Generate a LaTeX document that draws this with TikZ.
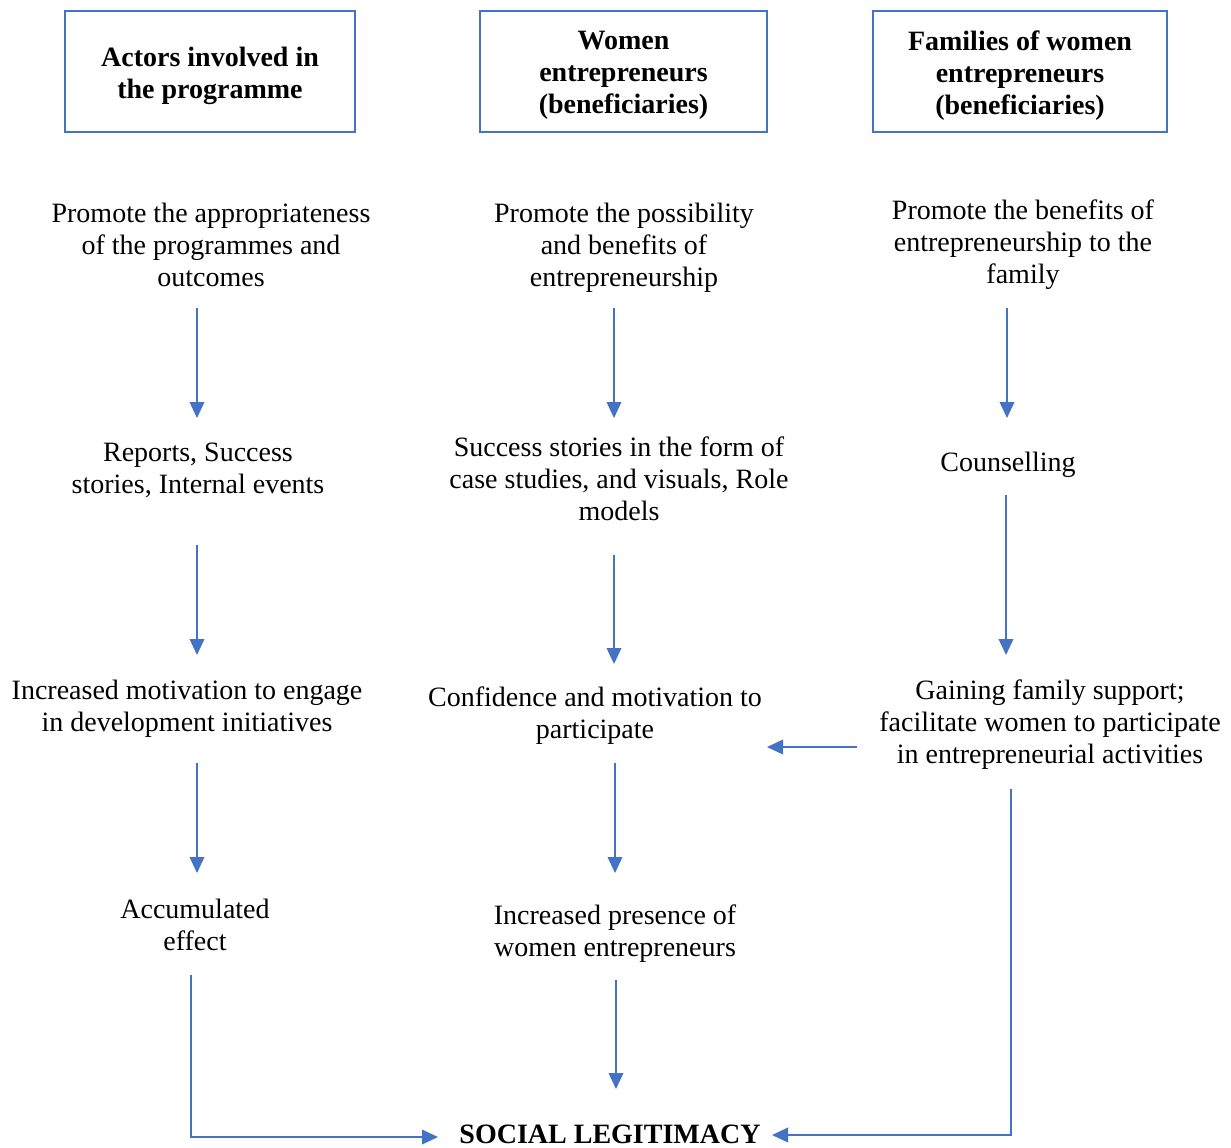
\documentclass[tikz,border=0pt]{standalone}
\usepackage{fontspec}
\setmainfont{Liberation Serif}
\usetikzlibrary{arrows.meta}
\definecolor{flowblue}{HTML}{4472C4}
\begin{document}
\begin{tikzpicture}[x=0.75pt,y=-0.75pt,
  txt/.style={align=center,inner sep=0pt,font=\fontsize{21}{24}\selectfont},
  headbox/.style={draw=flowblue,line width=0.9pt,minimum height=121*0.75pt,inner sep=0pt},
  headtxt/.style={txt,font=\fontsize{21}{24}\selectfont\bfseries},
  flow/.style={draw=flowblue,line width=1.1pt,-{Triangle[length=12pt,width=11pt]}}]
\useasboundingbox (0,0) rectangle (1231,1147);

% column headers
\node[headbox,minimum width=290*0.75pt] (h1) at (210,71.5) {};
\node[headbox,minimum width=287*0.75pt] (h2) at (623.5,71.5) {};
\node[headbox,minimum width=294*0.75pt] (h3) at (1020,71.5) {};
\node[headtxt] (h1t) at (210,76) {Actors involved in\\the programme};
\node[headtxt] (h2t) at (623.5,75.5) {Women\\entrepreneurs\\(beneficiaries)};
\node[headtxt] (h3t) at (1020,75.5) {Families of women\\entrepreneurs\\(beneficiaries)};

% actors column
\node[txt] (a1) at (211,245) {Promote the appropriateness\\of the programmes and\\outcomes};
\node[txt] (a2) at (198,470) {Reports, Success\\stories, Internal events};
\node[txt] (a3) at (187,708.5) {Increased motivation to engage\\in development initiatives};
\node[txt] (a4) at (195,925) {Accumulated\\effect};

% women column
\node[txt] (w1) at (624,248) {Promote the possibility\\and benefits of\\entrepreneurship};
\node[txt] (w2) at (619,479) {Success stories in the form of\\case studies, and visuals, Role\\models};
\node[txt] (w3) at (595,716) {Confidence and motivation to\\participate};
\node[txt] (w4) at (615,934) {Increased presence of\\women entrepreneurs};

% families column
\node[txt] (f1) at (1023,245) {Promote the benefits of\\entrepreneurship to the\\family};
\node[txt] (f2) at (1008,465) {Counselling};
\node[txt] (f3) at (1050,724.5) {Gaining family support;\\facilitate women to participate\\in entrepreneurial activities};

% outcome
\node[headtxt,anchor=base] (sl) at (610,1143) {SOCIAL LEGITIMACY};

% connector ends
\coordinate (a1s) at (197,308); \coordinate (a2n) at (197,418);
\coordinate (a2s) at (197,545); \coordinate (a3n) at (197,655);
\coordinate (a3s) at (197,763); \coordinate (a4n) at (197,873);
\coordinate (a4s) at (191,975); \coordinate (slw) at (438,1137);
\coordinate (w1s) at (614,308); \coordinate (w2n) at (614,418);
\coordinate (w2s) at (614,555); \coordinate (w3n) at (614,664);
\coordinate (w3s) at (615,763); \coordinate (w4n) at (615,873);
\coordinate (w4s) at (616,980); \coordinate (sln) at (616,1089);
\coordinate (f1s) at (1007,308); \coordinate (f2n) at (1007,418);
\coordinate (f2s) at (1006,495); \coordinate (f3n) at (1006,655);
\coordinate (f3w) at (857,747); \coordinate (w3e) at (767,747);
\coordinate (f3s) at (1011,789); \coordinate (sle) at (772,1135);

% connectors
\draw[flow] (a1s) -- (a2n);
\draw[flow] (a2s) -- (a3n);
\draw[flow] (a3s) -- (a4n);
\draw[flow] (a4s) |- (slw);
\draw[flow] (w1s) -- (w2n);
\draw[flow] (w2s) -- (w3n);
\draw[flow] (w3s) -- (w4n);
\draw[flow] (w4s) -- (sln);
\draw[flow] (f1s) -- (f2n);
\draw[flow] (f2s) -- (f3n);
\draw[flow] (f3w) -- (w3e);
\draw[flow] (f3s) |- (sle);
\end{tikzpicture}
\end{document}
